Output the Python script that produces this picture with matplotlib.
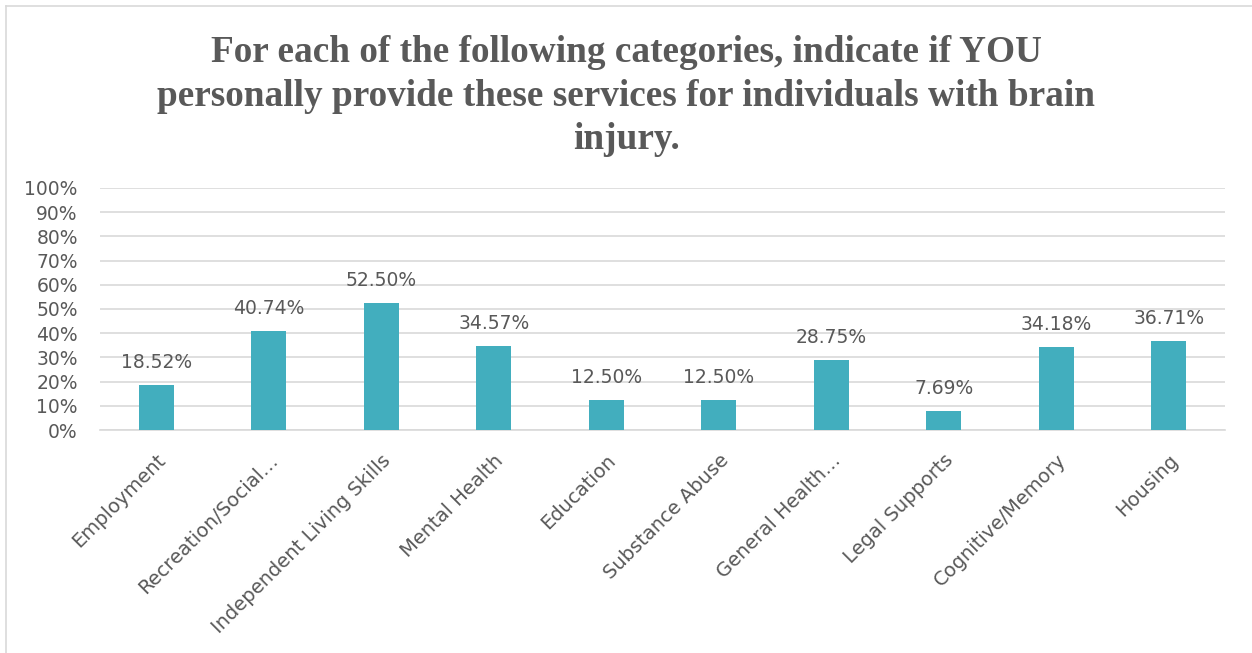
import matplotlib.pyplot as plt
from matplotlib.lines import Line2D

categories = ["Employment", "Recreation/Social\u2026", "Independent Living Skills", "Mental Health",
              "Education", "Substance Abuse", "General Health\u2026", "Legal Supports",
              "Cognitive/Memory", "Housing"]
values = [18.52, 40.74, 52.50, 34.57, 12.50, 12.50, 28.75, 7.69, 34.18, 36.71]
y_ticks = [0, 10, 20, 30, 40, 50, 60, 70, 80, 90, 100]

TEXT = "#595959"
BAR = "#42AEBE"
GRID = "#D9D9D9"

fig = plt.figure(figsize=(12.52, 6.53), dpi=100)
ax = fig.add_axes([100 / 1252, 1 - 430 / 653, 1125 / 1252, 242 / 653])

x = list(range(len(categories)))
ax.bar(x, values, width=0.31, color=BAR, zorder=3)

# value labels above each bar
for xi, v in zip(x, values):
    ax.text(xi, v + 7, f"{v:.2f}%", ha="center", va="baseline", fontsize=13.5,
            color=TEXT, family="DejaVu Sans")

ax.set_xlim(-0.5, len(categories) - 0.5)
ax.set_ylim(0, 100)
ax.set_yticks(y_ticks)
ax.set_yticklabels([f"{t}%" for t in y_ticks], fontsize=13.5, color=TEXT, family="DejaVu Sans")
ax.yaxis.grid(True, color=GRID, linewidth=1.2, zorder=0)
ax.tick_params(axis="y", length=0, pad=16)
ax.tick_params(axis="x", length=0, pad=15)
for s in ["top", "right", "left"]:
    ax.spines[s].set_visible(False)
ax.spines["bottom"].set_color(GRID)
ax.spines["bottom"].set_linewidth(1.2)

ax.set_xticks(x)
ax.set_xticklabels(categories, rotation=45, ha="right", rotation_mode="anchor",
                   fontsize=14, color=TEXT, family="DejaVu Sans")

fig.text(0.5, 1 - 96 / 653,
         "For each of the following categories, indicate if YOU\n"
         "personally provide these services for individuals with brain\n"
         "injury.",
         ha="center", va="center", fontsize=26.8, fontweight="bold", color=TEXT,
         family="Liberation Serif", linespacing=1.3)

# outer frame lines
fig.add_artist(Line2D([6 / 1252, 1], [1 - 6 / 653] * 2, color=GRID, lw=1.2))
fig.add_artist(Line2D([6 / 1252] * 2, [0, 1 - 6 / 653], color=GRID, lw=1.2))

fig.savefig("out.png", dpi=100)
